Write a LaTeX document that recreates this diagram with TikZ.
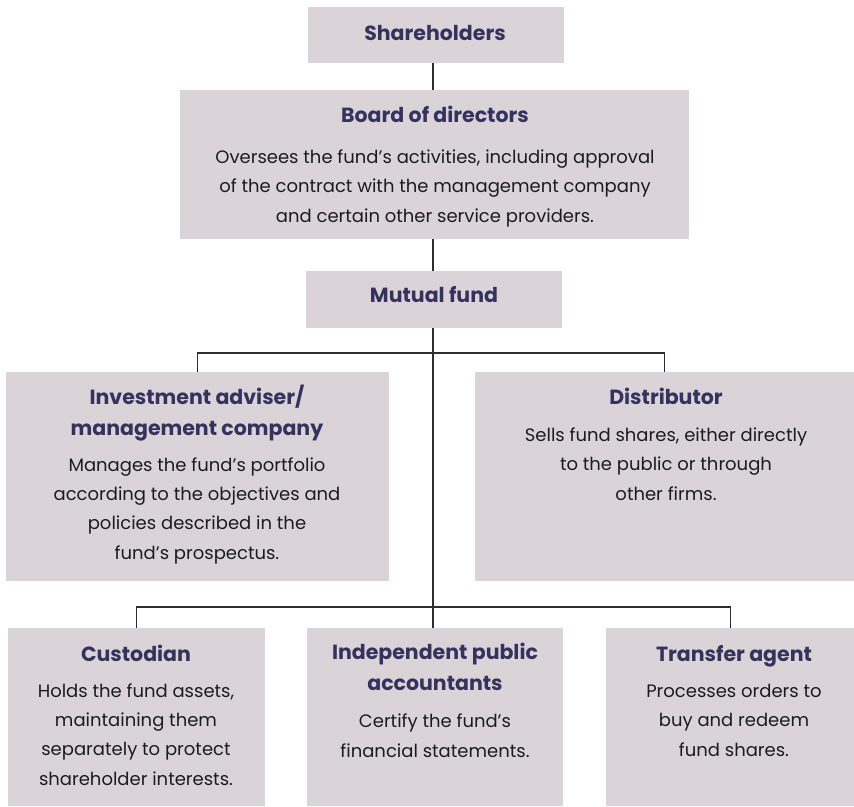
\documentclass[tikz,border=0pt]{standalone}
\usepackage{fontspec}
\setmainfont{Poppins}
\definecolor{boxfill}{HTML}{DAD4D9}
\definecolor{titlecol}{HTML}{35325E}
\definecolor{bodycol}{HTML}{1C1C1C}
\definecolor{linecol}{HTML}{2E2E2E}
\tikzset{
  box/.style={fill=boxfill, draw=none, rectangle, anchor=north west, inner sep=0pt},
  ttl/.style={anchor=base, align=center, text=titlecol, font=\fontsize{20.5}{31}\selectfont\bfseries, inner sep=0pt},
  bdy/.style={anchor=base, align=center, text=bodycol, font=\fontsize{18}{29.3}\selectfont, inner sep=0pt},
  conn/.style={draw=linecol, line width=1.4pt}
}
\begin{document}
\begin{tikzpicture}[x=1pt,y=-1pt]
\useasboundingbox (0,0) rectangle (854,806);
% boxes
\node[box, minimum width=256pt, minimum height=56pt] (sh) at (308,7) {};
\node[box, minimum width=509pt, minimum height=149pt] (bd) at (180,90) {};
\node[box, minimum width=256pt, minimum height=57pt] (mf) at (306,271) {};
\node[box, minimum width=383pt, minimum height=209pt] (inv) at (6,372) {};
\node[box, minimum width=379pt, minimum height=209pt] (dist) at (475,372) {};
\node[box, minimum width=257pt, minimum height=178pt] (cus) at (8,628) {};
\node[box, minimum width=256pt, minimum height=178pt] (ipa) at (307,628) {};
\node[box, minimum width=248pt, minimum height=178pt] (tra) at (606,628) {};
% connectors
\coordinate (b1) at (433,353);
\coordinate (b2) at (433,607);
\draw[conn] (b1 |- sh.south) -- (b1 |- bd.north);
\draw[conn] (b1 |- bd.south) -- (b1 |- mf.north);
\draw[conn] (b1 |- mf.south) -- (b1 |- ipa.north);
\draw[conn] (inv.north) |- (b1) -| (dist.north);
\draw[conn] (cus.north) |- (b2) -| (tra.north);
% texts (anchor = baseline of last line)
\node[ttl] (tsh) at (435,40) {Shareholders};
\node[ttl] (tbd) at (435,122) {Board of directors};
\node[bdy] (xbd) at (435,222) {Oversees the fund’s activities, including approval\\of the contract with the management company\\and certain other service providers.};
\node[ttl] (tmf) at (434,302) {Mutual fund};
\node[ttl] (tinv) at (197,435) {Investment adviser/\\management company};
\node[bdy] (xinv) at (197,559) {Manages the fund’s portfolio\\according to the objectives and\\policies described in the\\fund’s prospectus.};
\node[ttl] (tdist) at (666,404) {Distributor};
\node[bdy] (xdist) at (666,500) {Sells fund shares, either directly\\to the public or through\\other firms.};
\node[ttl] (tcus) at (136,661) {Custodian};
\node[bdy] (xcus) at (136,785) {Holds the fund assets,\\maintaining them\\separately to protect\\shareholder interests.};
\node[ttl] (tipa) at (435,690) {Independent public\\accountants};
\node[bdy] (xipa) at (435,757) {Certify the fund’s\\financial statements.};
\node[ttl] (ttra) at (734,661) {Transfer agent};
\node[bdy] (xtra) at (734,756) {Processes orders to\\buy and redeem\\fund shares.};
\end{tikzpicture}
\end{document}
